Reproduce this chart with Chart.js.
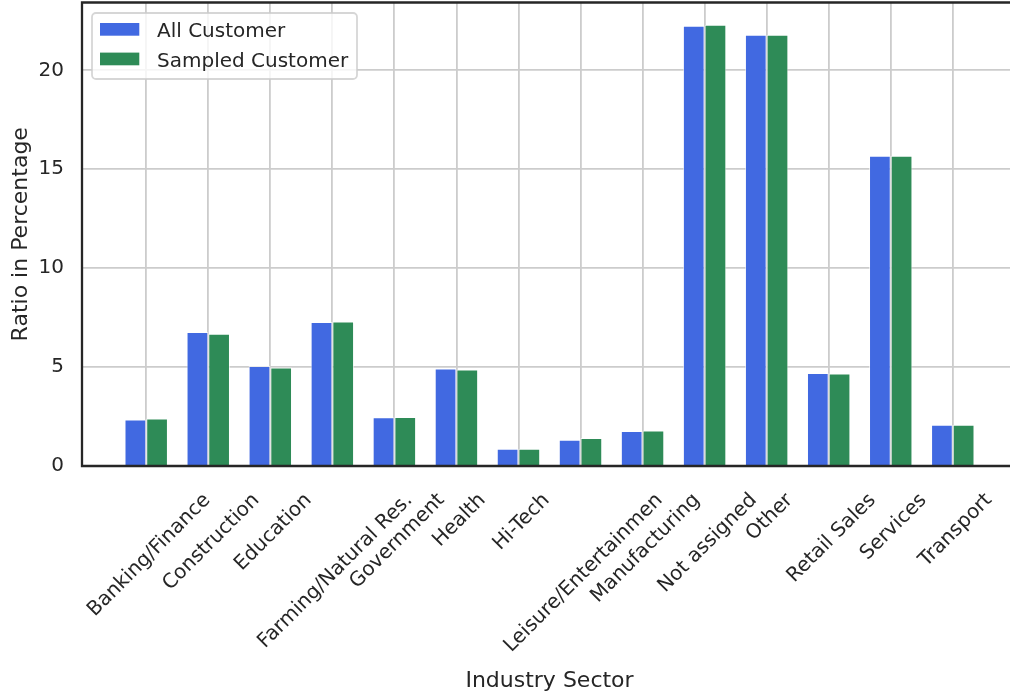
<!DOCTYPE html>
<html>
<head>
<meta charset="utf-8">
<title>Industry Sector</title>
<script src="https://cdn.jsdelivr.net/npm/chart.js@4.4.1/dist/chart.umd.min.js"></script>
<style>
  html, body { margin: 0; padding: 0; background: #fff; overflow: hidden; }
  #wrap { position: relative; width: 1030px; height: 696px; }
</style>
</head>
<body>
<div id="wrap"><canvas id="sector-chart"></canvas></div>
<script>
// Share of customers per industry sector (percent)
const sectors = ['Banking/Finance', 'Construction', 'Education', 'Farming/Natural Res.', 'Government', 'Health', 'Hi-Tech',
    'Leisure/Entertainmen', 'Manufacturing', 'Not assigned', 'Other', 'Retail Sales', 'Services', 'Transport'];
const allCustomer = [2.35, 6.78, 5.05, 7.28, 2.47, 4.93, 0.87, 1.33, 1.77, 22.25, 21.80, 4.70, 15.68, 2.08];
const sampledCustomer = [2.40, 6.68, 4.98, 7.31, 2.48, 4.88, 0.87, 1.41, 1.80, 22.31, 21.80, 4.68, 15.68, 2.08];
const seriesNames = ['All Customer', 'Sampled Customer'];
const yTicks = [0, 5, 10, 15, 20];

const TEXT = '#262626';
const FONT = '"DejaVu Sans", sans-serif';
const BLUE = '#4169E1';
const GREEN = '#2E8B57';

// Rotated sector names, axis titles, spines and the boxed legend
const decorations = {
    id: 'decorations',
    afterDatasetsDraw(chart) {
        const ctx = chart.ctx;
        const area = chart.chartArea;
        const xScale = chart.scales.x;
        ctx.save();

        // spines (left, bottom, top)
        ctx.strokeStyle = TEXT;
        ctx.lineWidth = 2.3;
        ctx.beginPath();
        ctx.moveTo(area.right + 5, area.top);
        ctx.lineTo(area.left, area.top);
        ctx.lineTo(area.left, area.bottom);
        ctx.lineTo(area.right + 5, area.bottom);
        ctx.stroke();

        // sector names at 45 degrees, centred under each group
        ctx.fillStyle = TEXT;
        ctx.font = '20px ' + FONT;
        ctx.textAlign = 'center';
        ctx.textBaseline = 'middle';
        sectors.forEach((name, i) => {
            const w = ctx.measureText(name).width;
            const half = (w + 23) * Math.SQRT1_2 / 2;
            const x = xScale.getPixelForValue(i) + 3;
            ctx.save();
            ctx.translate(x, area.bottom + 23 + half);
            ctx.rotate(-Math.PI / 4);
            ctx.fillText(name, 0, 0);
            ctx.restore();
        });

        // axis titles
        ctx.font = '22px ' + FONT;
        ctx.textBaseline = 'alphabetic';
        ctx.fillText('Industry Sector', (area.left + area.right) / 2, 687);
        ctx.save();
        ctx.translate(27, (area.top + area.bottom) / 2);
        ctx.rotate(-Math.PI / 2);
        ctx.fillText('Ratio in Percentage', 0, 0);
        ctx.restore();

        // legend
        const lx = area.left + 10, ly = area.top + 10.5, lw = 265, lh = 66;
        ctx.beginPath();
        ctx.roundRect(lx, ly, lw, lh, 4);
        ctx.fillStyle = 'rgba(255,255,255,0.8)';
        ctx.fill();
        ctx.strokeStyle = 'rgba(204,204,204,0.8)';
        ctx.lineWidth = 1.8;
        ctx.stroke();

        ctx.font = '20px ' + FONT;
        ctx.textAlign = 'left';
        chart.data.datasets.forEach((ds, i) => {
            const top = ly + 10 + i * 29.6;
            ctx.fillStyle = ds.backgroundColor;
            ctx.fillRect(lx + 8, top, 39.3, 12.7);
            ctx.fillStyle = TEXT;
            ctx.fillText(ds.label, lx + 65, top + 14);
        });

        ctx.restore();
    }
};

function barData(values) {
    return values.map((v, i) => ({ x: i, y: v }));
}

new Chart(document.getElementById('sector-chart'), {
    type: 'bar',
    data: {
        datasets: [
            {
                label: seriesNames[0],
                data: barData(allCustomer),
                backgroundColor: BLUE,
                borderColor: 'rgba(255,255,255,0.6)',
                borderWidth: 1,
                categoryPercentage: 0.7,
                barPercentage: 1.0
            },
            {
                label: seriesNames[1],
                data: barData(sampledCustomer),
                backgroundColor: GREEN,
                borderColor: 'rgba(255,255,255,0.6)',
                borderWidth: 1,
                categoryPercentage: 0.7,
                barPercentage: 1.0
            }
        ]
    },
    options: {
        responsive: true,
        maintainAspectRatio: false,
        animation: false,
        layout: { padding: { top: 2.5, right: 13, left: 0, bottom: 0 } },
        scales: {
            x: {
                type: 'linear',
                min: -1.035,
                max: 14.035,
                offset: false,
                grid: { offset: false, color: '#cccccc', lineWidth: 1.8, drawTicks: false },
                border: { display: false },
                ticks: { display: false },
                afterBuildTicks: (scale) => { scale.ticks = sectors.map((_, i) => ({ value: i })); },
                afterFit: (scale) => {
                    scale.height = 230;
                    scale.paddingLeft = 0;
                    scale.paddingRight = 0;
                }
            },
            y: {
                min: 0,
                max: 23.43,
                grid: { color: '#cccccc', lineWidth: 1.8, drawTicks: false },
                border: { display: false },
                ticks: {
                    color: TEXT,
                    padding: 18,
                    includeBounds: false,
                    font: { family: FONT, size: 20 }
                },
                afterBuildTicks: (scale) => { scale.ticks = yTicks.map(v => ({ value: v })); },
                afterFit: (scale) => {
                    scale.width = 82;
                    scale.paddingTop = 0;
                    scale.paddingBottom = 0;
                }
            }
        },
        plugins: {
            legend: { display: false },
            tooltip: { enabled: false }
        }
    },
    plugins: [decorations]
});
</script>
</body>
</html>
